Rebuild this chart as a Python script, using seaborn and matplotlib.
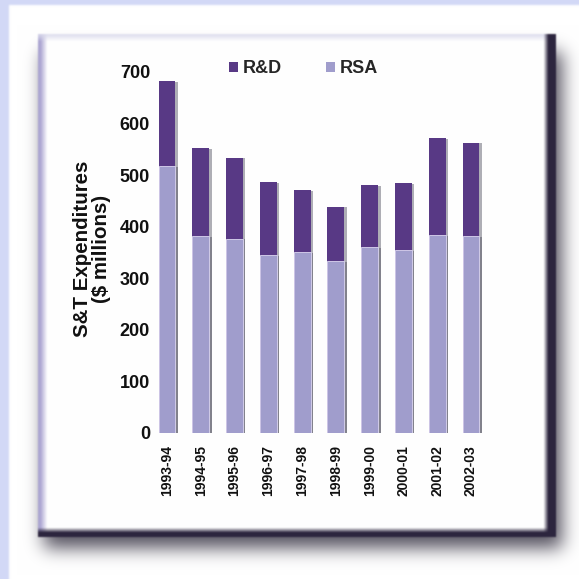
import numpy as np
import pandas as pd
import matplotlib
matplotlib.use("Agg")
import matplotlib.pyplot as plt
import matplotlib.patheffects as pe
from matplotlib import font_manager as fm
from matplotlib.patches import Patch
import seaborn as sns

# ---- data ($ millions) ----
years = ["1993-94", "1994-95", "1995-96", "1996-97", "1997-98",
         "1998-99", "1999-00", "2000-01", "2001-02", "2002-03"]
rsa = [518, 382, 377, 345, 350, 334, 360, 355, 383, 381]
rd = [164, 171, 157, 141, 121, 105, 121, 129, 188, 182]
y_ticks = [0, 100, 200, 300, 400, 500, 600, 700]
series_names = ["R&D", "RSA"]
y_label = "S&T Expenditures\n($ millions)"

RD_COLOR = "#583985"
RSA_COLOR = "#a09dcc"
TEXT = "#111111"

df = pd.DataFrame({"year": years, "RSA": rsa, "R&D": rd})
df["total"] = df["RSA"] + df["R&D"]


def bold_font():
    """Pick a bold sans font file, preferring Arial-metric families."""
    wanted = ["Liberation Sans", "Arimo", "Roboto", "Open Sans", "Lato",
              "Noto Sans", "Inter", "DejaVu Sans"]
    entries = fm.fontManager.ttflist
    for name in wanted:
        for e in entries:
            w = e.weight if isinstance(e.weight, int) else {"bold": 700}.get(e.weight, 400)
            if e.name == name and w >= 600 and e.style == "normal" \
                    and "Narrow" not in e.fname and "Condensed" not in e.fname:
                return fm.FontProperties(fname=e.fname)
    return fm.FontProperties(family="DejaVu Sans", weight="bold")


BOLD = bold_font()


def fp(size):
    p = BOLD.copy()
    p.set_size(size)
    return p


sns.set_style("white")

W = H = 579
fig = plt.figure(figsize=(W / 100, H / 100), dpi=100)


def blur(a, sigma):
    r = max(1, int(3 * sigma))
    k = np.exp(-0.5 * (np.arange(-r, r + 1) / sigma) ** 2)
    k /= k.sum()
    f = lambda v: np.convolve(np.pad(v, r, mode="edge"), k, mode="valid")
    a = np.apply_along_axis(f, 0, a)
    return np.apply_along_axis(f, 1, a)


# ---- page background: tinted margin, framed card with soft drop shadow ----
yy, xx = np.mgrid[0:H, 0:W].astype(float)
img = np.ones((H, W, 3))
tint = np.array([210, 216, 246]) / 255
page = blur(((xx >= 9) & (yy >= 5)).astype(float), 1.0)
img = img * page[..., None] + tint * (1 - page[..., None])

sh = np.zeros((H, W))
sh[52:548, 44:562] = 1
sh = blur(sh, 9) * 0.8
shadow_col = np.array([42, 38, 55]) / 255
img = img * (1 - sh[..., None]) + shadow_col * sh[..., None]

frame = np.ones((H, W, 3))
lav = np.array([172, 166, 210]) / 255
light = np.array([218, 218, 236]) / 255
dark = np.array([44, 37, 62]) / 255
t = np.clip((47 - xx) / 7, 0, 1)[..., None]
frame = frame * (1 - t) + lav * t
t = (np.clip((41 - yy) / 6, 0, 1) * 0.8)[..., None]
frame = frame * (1 - t) + light * t
t = np.clip((xx - 543) / 5, 0, 1)[..., None]
frame = frame * (1 - t) + dark * t
t = np.clip((yy - 527) / 5, 0, 1)[..., None]
frame = frame * (1 - t) + dark * t
for c in range(3):
    frame[..., c] = blur(frame[..., c], 0.8)
box = np.zeros((H, W))
box[34:537, 38:556] = 1
box = blur(box, 0.8)[..., None]
img = img * (1 - box) + frame * box

bg = fig.add_axes([0, 0, 1, 1], zorder=-1)
bg.imshow(np.clip(img, 0, 1), extent=[0, W, H, 0], interpolation="bilinear")
bg.set_xlim(0, W)
bg.set_ylim(H, 0)
bg.axis("off")

# ---- stacked bars ----
ax = fig.add_axes([0.2592, 0.2522, 0.5834, 0.6235])
ax.set_facecolor("none")

bar_fx = [pe.SimplePatchShadow(offset=(1.8, -0.6), shadow_rgbFace=(0.3, 0.3, 0.36), alpha=0.45),
          pe.Normal()]

sns.barplot(data=df, x="year", y="total", color=RD_COLOR, saturation=1,
            width=0.5, ax=ax, linewidth=0)
sns.barplot(data=df, x="year", y="RSA", color=RSA_COLOR, saturation=1,
            width=0.5, ax=ax, linewidth=0)
n = len(years)
for i, p in enumerate(ax.patches):
    p.set_path_effects(bar_fx)
    if i >= n:
        p.set_edgecolor("#dcd6f2")
        p.set_linewidth(0.6)

ax.set_ylim(0, 700)
ax.set_xlim(-0.5, n - 0.5)
ax.set_yticks(y_ticks)
ax.set_yticklabels([str(v) for v in y_ticks], fontproperties=fp(13), color=TEXT)
ax.tick_params(axis="y", length=0, pad=0)
ax.tick_params(axis="x", length=0, pad=9)
ax.set_xticks(range(n))
ax.set_xticklabels(years, fontproperties=fp(10), rotation=90, color=TEXT)
ax.set_xlabel("")
ax.set_ylabel(y_label, fontproperties=fp(14.8), color=TEXT,
              va="center", linespacing=1.0)
ax.yaxis.set_label_coords(-0.1705, 0.51)
sns.despine(ax=ax, left=True, bottom=True)
ax.grid(False)

handles = [Patch(facecolor=RD_COLOR, edgecolor="none"),
           Patch(facecolor=RSA_COLOR, edgecolor="none")]
fig.legend(handles, series_names, loc="center", bbox_to_anchor=(0.524, 0.881),
           ncol=2, frameon=False, handlelength=0.5, handleheight=0.5,
           handletextpad=0.3, columnspacing=2.4, prop=fp(13))

fig.savefig("out.png", dpi=100)
